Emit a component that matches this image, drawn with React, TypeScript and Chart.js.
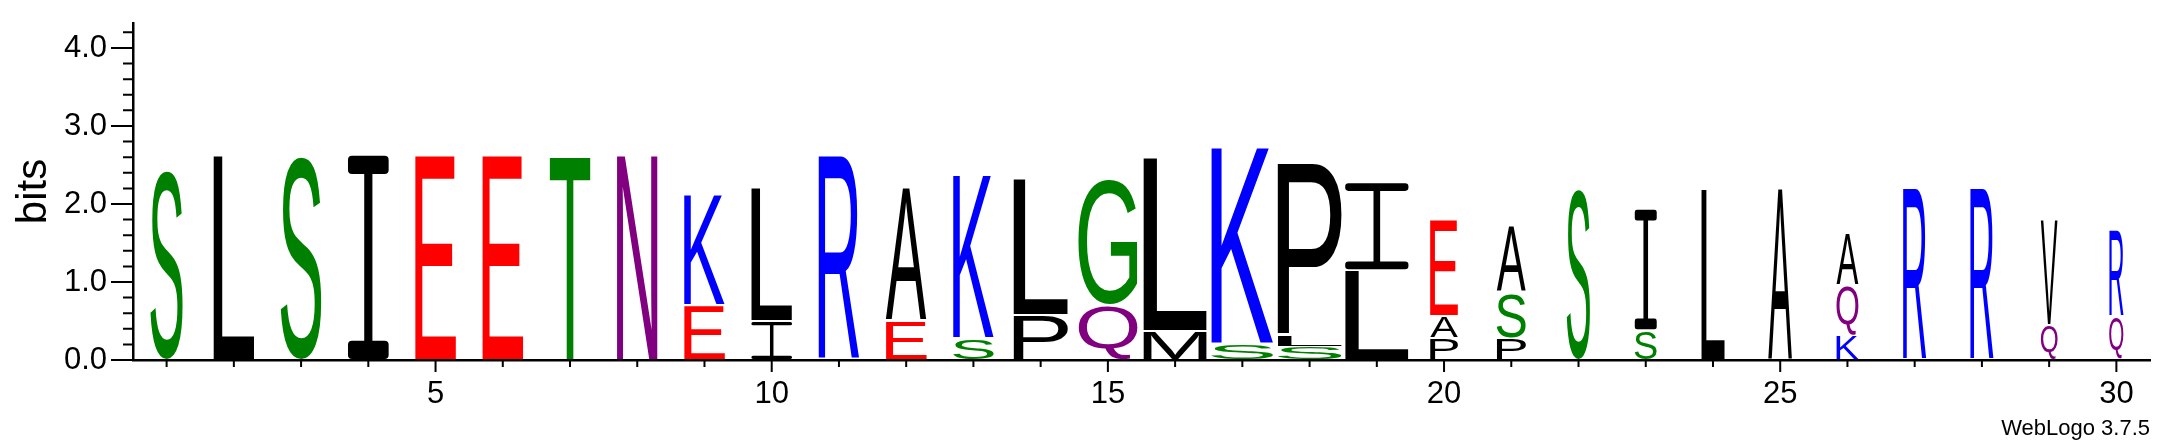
import React, { useEffect, useRef } from "react";
import Chart from "chart.js/auto";

// sequence positions 1..30
const positions = [
  "1", "2", "3", "4", "5", "6", "7", "8", "9", "10",
  "11", "12", "13", "14", "15", "16", "17", "18", "19", "20",
  "21", "22", "23", "24", "25", "26", "27", "28", "29", "30",
];

// stacks, bottom layer first (bits per letter)
const layer1Letters = ["S", "L", "S", "I", "E", "E", "T", "N", "E", "I", "R", "E", "S", "P", "Q", "M", "S", "S", "L", "P", "P", "S", "S", "L", "A", "K", "R", "R", "Q", "Q"];
const layer1Bits = [2.45, 2.63, 2.63, 2.63, 2.63, 2.63, 2.63, 2.63, 0.7, 0.5, 2.63, 0.5, 0.28, 0.58, 0.71, 0.37, 0.21, 0.17, 1.15, 0.28, 0.28, 2.2, 0.38, 2.2, 2.2, 0.32, 2.2, 2.2, 0.45, 0.56];

const layer2Letters = ["", "", "", "", "", "", "", "", "K", "L", "", "A", "K", "L", "G", "L", "K", "L", "I", "A", "S", "", "I", "", "", "Q", "", "", "V", "R"];
const layer2Bits = [0, 0, 0, 0, 0, 0, 0, 0, 1.42, 1.72, 0, 1.72, 2.09, 1.75, 1.62, 2.22, 2.52, 0.16, 1.13, 0.29, 0.58, 0, 1.56, 0, 0, 0.64, 0, 0, 1.35, 1.12];

const layer3Letters = ["", "", "", "", "", "", "", "", "", "", "", "", "", "", "", "", "", "P", "", "E", "A", "", "", "", "", "A", "", "", "", ""];
const layer3Bits = [0, 0, 0, 0, 0, 0, 0, 0, 0, 0, 0, 0, 0, 0, 0, 0, 0, 2.2, 0, 1.24, 0.85, 0, 0, 0, 0, 0.67, 0, 0, 0, 0];

// fraction of non-gap symbols per column (scales the stack width)
const coverage = [0.5, 0.63, 0.63, 0.63, 0.63, 0.63, 0.63, 0.63, 0.63, 0.63, 0.63, 0.63, 0.63, 0.84, 0.91, 0.98, 0.96, 0.99, 0.98, 0.43, 0.45, 0.36, 0.34, 0.36, 0.37, 0.34, 0.36, 0.36, 0.26, 0.22];

const layers = [
  { letters: layer1Letters, bits: layer1Bits },
  { letters: layer2Letters, bits: layer2Bits },
  { letters: layer3Letters, bits: layer3Bits },
];

const FONT = "'Liberation Sans', Arial, Helvetica, sans-serif";

const colorOf = (ch: string) => {
  if ("GSTYC".includes(ch)) return "#008000";
  if ("NQ".includes(ch)) return "#800080";
  if ("KRH".includes(ch)) return "#0000ff";
  if ("DE".includes(ch)) return "#ff0000";
  return "#000000";
};

const drawGlyph = (ctx: CanvasRenderingContext2D, ch: string, x0: number, y0: number, w: number, h: number) => {
  if (w <= 0 || h <= 0.5) return;
  ctx.save();
  ctx.fillStyle = colorOf(ch);
  if (ch === "I") {
    // serif I like weblogo's
    const barH = Math.max(1, h * 0.09);
    const stem = Math.min(w, 0.09 * Math.sqrt(w * h));
    const r = Math.min(barH, stem) / 2;
    ctx.beginPath();
    ctx.roundRect(x0, y0, w, barH, r);
    ctx.roundRect(x0, y0 + h - barH, w, barH, r);
    ctx.rect(x0 + w / 2 - stem / 2, y0 + barH / 2, stem, h - barH);
    ctx.fill();
  } else {
    ctx.font = "200px " + FONT;
    ctx.textAlign = "left";
    ctx.textBaseline = "alphabetic";
    const m = ctx.measureText(ch);
    const gw = m.actualBoundingBoxLeft + m.actualBoundingBoxRight;
    const gh = m.actualBoundingBoxAscent + m.actualBoundingBoxDescent;
    ctx.translate(x0, y0);
    ctx.scale(w / gw, h / gh);
    ctx.fillText(ch, m.actualBoundingBoxLeft, m.actualBoundingBoxAscent);
  }
  ctx.restore();
};

const logoPlugin = {
  id: "logoLetters",
  afterDatasetsDraw(chart: any) {
    const ctx = chart.ctx;
    const xScale = chart.scales.x;
    const colW = (xScale.right - xScale.left) / positions.length;
    layers.forEach((layer, di) => {
      const meta = chart.getDatasetMeta(di);
      meta.data.forEach((bar: any, i: number) => {
        const ch = layer.letters[i];
        if (!ch || !layer.bits[i]) return;
        const { x, y, base } = bar.getProps(["x", "y", "base"], true);
        const w = colW * 0.96 * coverage[i];
        const top = Math.min(y, base) + 1;
        const h = Math.abs(base - y) - 2;
        drawGlyph(ctx, ch, x - w / 2, top, w, h);
      });
    });
  },
  afterDraw(chart: any) {
    const ctx = chart.ctx;
    const xScale = chart.scales.x;
    const yScale = chart.scales.y;
    ctx.save();
    ctx.strokeStyle = "#000";
    ctx.lineWidth = 2;
    ctx.beginPath();
    yScale.ticks.forEach((t: any) => {
      const py = yScale.getPixelForValue(t.value);
      const major = Math.abs(t.value - Math.round(t.value)) < 1e-6;
      ctx.moveTo(yScale.right - (major ? 22 : 10), py);
      ctx.lineTo(yScale.right, py);
    });
    xScale.ticks.forEach((_t: any, i: number) => {
      const px = xScale.getPixelForTick(i);
      const major = (i + 1) % 5 === 0;
      ctx.moveTo(px, xScale.top);
      ctx.lineTo(px, xScale.top + (major ? 12 : 7));
    });
    ctx.stroke();

    ctx.fillStyle = "#000";
    ctx.font = "22px " + FONT;
    ctx.textAlign = "right";
    ctx.textBaseline = "alphabetic";
    ctx.fillText("WebLogo 3.7.5", xScale.right, 435);
    ctx.restore();
  },
};

const App = () => {
  const chartRef = useRef<HTMLCanvasElement>(null);
  const chartInstance = useRef<any>(null);

  useEffect(() => {
    if (!chartRef.current) return;
    const ctx: any = chartRef.current.getContext("2d");
    if (chartInstance.current) chartInstance.current.destroy();

    chartInstance.current = new Chart(ctx, {
      type: "bar",
      data: {
        labels: positions,
        datasets: layers.map((layer, k) => ({
          label: "layer " + (k + 1),
          data: layer.bits.map((b) => (b > 0 ? b : null)),
          backgroundColor: "rgba(0,0,0,0)",
          borderWidth: 0,
          barPercentage: 0.96,
          categoryPercentage: 1,
        })),
      },
      options: {
        responsive: false,
        animation: false,
        devicePixelRatio: 1,
        events: [],
        layout: { padding: { left: 0, right: 26, top: 23, bottom: 0 } },
        plugins: {
          legend: { display: false },
          tooltip: { enabled: false },
        },
        scales: {
          x: {
            type: "category",
            stacked: true,
            offset: true,
            grid: { display: false, drawTicks: false },
            border: { display: true, color: "#000", width: 2.5 },
            ticks: {
              autoSkip: false,
              maxRotation: 0,
              padding: 16,
              color: "#000",
              font: { family: FONT, size: 31 },
              callback: (_v: any, i: number) => ((i + 1) % 5 === 0 ? positions[i] : ""),
            },
            afterFit: (s: any) => {
              s.height = 84;
            },
          },
          y: {
            type: "linear",
            stacked: true,
            min: 0,
            max: 4.32,
            grid: { display: false, drawTicks: false },
            border: { display: true, color: "#000", width: 2.5 },
            title: {
              display: true,
              text: "bits",
              color: "#000",
              font: { family: FONT, size: 42 },
              padding: { top: 9, bottom: 0 },
            },
            ticks: {
              stepSize: 0.2,
              autoSkip: false,
              includeBounds: false,
              padding: 26,
              color: "#000",
              font: { family: FONT, size: 31 },
              callback: (v: any) =>
                Math.abs(v - Math.round(v)) < 1e-6 ? Number(v).toFixed(1) : "",
            },
            afterFit: (s: any) => {
              s.width = 133;
              // keep the label padding from pushing the plot area down
              s.paddingTop = 0;
              s.paddingBottom = 0;
            },
          },
        },
      },
      plugins: [logoPlugin],
    });

    return () => {
      if (chartInstance.current) {
        chartInstance.current.destroy();
        chartInstance.current = null;
      }
    };
  }, []);

  return (
    <div
      style={{
        position: "absolute",
        left: 0,
        top: 0,
        width: "2176px",
        height: "444px",
        background: "#fff",
      }}
    >
      <canvas
        ref={chartRef}
        width={2176}
        height={444}
        style={{ display: "block", width: "2176px", height: "444px" }}
      />
    </div>
  );
};

export default App;
